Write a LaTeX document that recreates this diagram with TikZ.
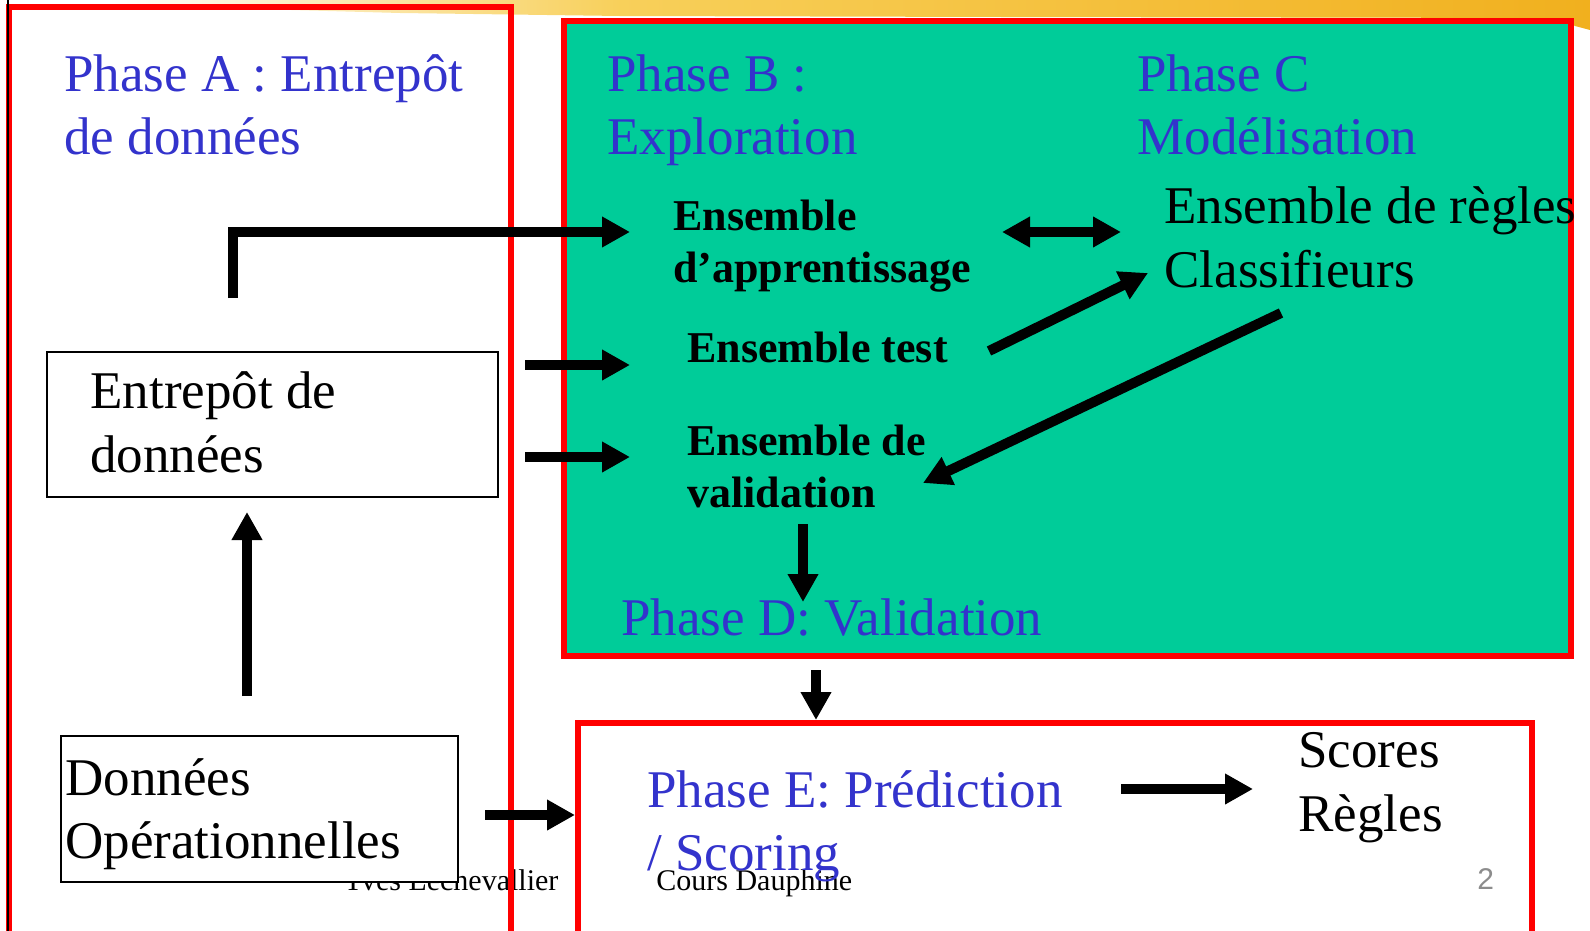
\documentclass[tikz,border=0pt]{standalone}
\usepackage{fontspec}
\setmainfont{Liberation Serif}
\newfontfamily\pagenumfont{Liberation Sans}
\usepackage{tikz}
\usetikzlibrary{calc,arrows.meta}

\definecolor{phaseblue}{HTML}{3333CC}
\definecolor{explgreen}{HTML}{00CC99}
\definecolor{brushgold}{HTML}{F6C431}
\definecolor{brushorange}{HTML}{F1B01E}

\tikzset{
  phase/.style={text=phaseblue, font=\fontsize{26.5}{31.5}\selectfont, align=left, anchor=base west, inner sep=0pt},
  ens/.style={font=\fontsize{22}{26}\selectfont\bfseries, align=left, anchor=base west, inner sep=0pt},
  plain/.style={font=\fontsize{26.5}{32}\selectfont, align=left, anchor=base west, inner sep=0pt},
  foot/.style={font=\fontsize{15}{18}\selectfont, anchor=base west, inner sep=0pt},
  redbox/.style={draw=red, line width=3pt, anchor=north west, inner sep=0pt, outer sep=0pt},
  databox/.style={draw=black, line width=1pt, fill=white, anchor=north west, inner sep=0pt, outer sep=0pt},
  bigarrow/.style={line width=5pt, -{Triangle[length=14pt,width=14.5pt]}},
}

\begin{document}
\begin{tikzpicture}[x=0.5pt,y=-0.5pt]
\useasboundingbox (0,0) rectangle (1590,931);
% brush stroke of the slide template
\shade[left color=white, right color=brushgold!80]
  (110,0) -- (620,0) -- (620,16) -- (400,13) -- (110,5) -- cycle;
\shade[left color=brushgold!80, middle color=brushgold, right color=brushorange]
  (619,0) -- (1590,0) -- (1590,30) -- (1575,26) -- (1560,18) -- (1000,17) -- (619,16) -- cycle;

% footer
\node[foot] (auteur) at (342,890) {Yves Lechevallier};
\node[foot] (cours) at (656,890) {Cours Dauphine};
\node[foot, text=black!45, font=\pagenumfont\fontsize{15}{18}\selectfont] (page) at (1477,889) {2};

% phase boxes
\draw[red, line width=3pt] (9,960) -- (9,7) -- (511,7) -- (511,960);
\draw[black, line width=1pt] (8,0) -- (8,931);
\node[redbox, fill=explgreen, minimum width=503.5pt, minimum height=317.5pt] (explore) at (564,21) {};
\node[redbox, minimum width=477pt, minimum height=113.5pt] (predict) at (578,723) {};
\node[databox, minimum width=225.5pt, minimum height=72.5pt] (entrepot) at (47,352) {};
\node[databox, minimum width=198.5pt, minimum height=73pt] (donnees) at (61,736) {};

% texts (base = last line)
\node[phase] (phaseA) at (64,155) {Phase A : Entrepôt\\de données};
\node[phase] (phaseB) at (607,155) {Phase B :\\Exploration};
\node[phase] (phaseC) at (1137,155) {Phase C\\Modélisation};
\node[phase] (phaseD) at (621,635) {Phase D: Validation};
\node[phase] (phaseE) at (647,870) {Phase E: Prédiction\\/ Scoring};
\node[ens] (appr) at (673,282) {Ensemble\\d’apprentissage};
\node[ens] (test) at (687,362) {Ensemble test};
\node[ens] (valid) at (687,507) {Ensemble de\\validation};
\node[plain] (regles) at (1164,287) {Ensemble de règles\\Classifieurs};
\node[plain] (entrepottxt) at (90,472) {Entrepôt de\\données};
\node[plain, font=\fontsize{26.5}{31.5}\selectfont] (donneestxt) at (65,858) {Données\\Opérationnelles};
\node[plain] (scores) at (1298,831) {Scores\\Règles};

% arrows
\draw[bigarrow] ($(entrepot.north)+(-39.5,-54)$) |- ($(appr.base west)+(-43,-50)$);
\draw[bigarrow] ($(test.base west)+(-162,3)$) -- ($(test.base west)+(-57,3)$);
\draw[bigarrow] ($(valid.base west)+(-162,-50)$) -- ($(valid.base west)+(-57,-50)$);
\draw[line width=5pt, {Triangle[length=14pt,width=14.5pt]}-{Triangle[length=14pt,width=14.5pt]}]
  ($(appr.base west)+(329,-50)$) -- ($(regles.base west)+(-43,-55)$);
\draw[bigarrow] ($(test.base west)+(302,-11)$) -- ($(regles.base west)+(-16,-14)$);
\draw[bigarrow] ($(regles.base west)+(117,26)$) -- ($(valid.base west)+(236,-24)$);
\draw[bigarrow] ($(valid.base west)+(116,17)$) -- ($(phaseD.base west)+(182,-33)$);
\draw[bigarrow] ($(explore.south)+(-251.5,14)$) -- ($(predict.north)+(-239,-3)$);
\draw[bigarrow] ($(donnees.north)+(-12.5,-40)$) -- ($(entrepot.south)+(-25.5,15)$);
\draw[bigarrow] ($(donnees.east)+(27,6)$) -- ($(predict.west)+(-3,-21.5)$);
\draw[bigarrow] ($(scores.base west)+(-177,-42)$) -- ($(scores.base west)+(-45,-42)$);
\end{tikzpicture}
\end{document}
